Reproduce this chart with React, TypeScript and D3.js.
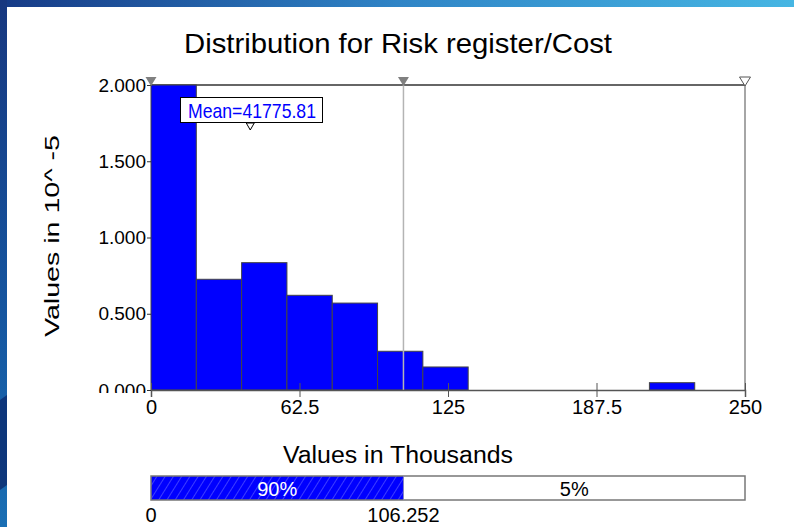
import { useEffect, useRef } from "react";
import * as d3 from "d3";

const W = 794;
const H = 527;

// histogram (values in thousands, density in 10^-5)
const binEdges = [0, 19.07, 38.14, 57.21, 76.28, 95.35, 114.42, 133.49, 152.56, 171.63, 190.7, 209.77, 228.84];
const densities = [2.02, 0.726, 0.835, 0.621, 0.57, 0.254, 0.151, 0, 0, 0, 0, 0.048];

const xTicks = [0, 62.5, 125, 187.5, 250];
const yTicks = [0, 0.5, 1.0, 1.5, 2.0];

const meanValue = 41.77581;
const meanLabel = "Mean=41775.81";
const leftCut = 0;
const rightCut = 106.252;
const bandLabels = ["90%", "5%"];

const FONT = "'Liberation Sans', Arial, sans-serif";

export default function App() {
  const axesRef = useRef<SVGGElement>(null);

  const x = d3.scaleLinear().domain([0, 250]).range([151, 745]);
  const y = d3.scaleLinear().domain([0, 2]).range([390, 85]).clamp(true);

  useEffect(() => {
    const g = d3.select(axesRef.current);
    g.selectAll("*").remove();

    // x axis, ticks cross the line
    const xa = g.append("g").attr("transform", "translate(0,390)");
    xa.call(d3.axisBottom(x).tickValues(xTicks).tickSize(7).tickFormat((d) => String(d)));
    xa.select(".domain").attr("stroke", "#555").attr("stroke-width", 1.5);
    xa.selectAll(".tick line").attr("stroke", "#555").attr("y1", -7);
    xa.selectAll(".tick text")
      .attr("font-family", FONT)
      .attr("font-size", 20)
      .attr("fill", "#000")
      .attr("y", 10);

    // y axis (bottom label gets cut by the plot edge, like the original)
    const ya = g.append("g").attr("transform", "translate(151,0)").attr("clip-path", "url(#yclip)");
    ya.call(d3.axisLeft(y).tickValues(yTicks).tickSize(4).tickFormat(d3.format(".3f")));
    ya.select(".domain").remove();
    ya.selectAll(".tick line").attr("stroke", "#333");
    ya.selectAll(".tick text")
      .attr("font-family", FONT)
      .attr("font-size", 19)
      .attr("fill", "#000")
      .attr("x", -5);
  }, []);

  const bars = densities.map((v, i) => ({ x0: binEdges[i], x1: binEdges[i + 1], v })).filter((b) => b.v > 0);

  const tri = (cx: number, top: number, w: number, h: number) =>
    `M${cx - w / 2},${top} L${cx + w / 2},${top} L${cx},${top + h} Z`;

  return (
    <svg width={W} height={H} style={{ position: "fixed", left: 0, top: 0 }}>
      <defs>
        <linearGradient id="topband" x1="0" x2="1" y1="0" y2="0">
          <stop offset="0" stopColor="#163a86" />
          <stop offset="0.5" stopColor="#2f84c6" />
          <stop offset="1" stopColor="#46b6e3" />
        </linearGradient>
        <linearGradient id="leftband" x1="0" x2="0" y1="0" y2="1">
          <stop offset="0" stopColor="#17377f" />
          <stop offset="0.6" stopColor="#1556a0" />
          <stop offset="1" stopColor="#1a6fb4" />
        </linearGradient>
        <pattern id="hatch" width="7" height="7" patternUnits="userSpaceOnUse" patternTransform="rotate(32)">
          <rect width="7" height="7" fill="#0000ff" />
          <line x1="0" y1="0" x2="0" y2="7" stroke="#7a7aff" strokeWidth="1" />
        </pattern>
        <clipPath id="yclip">
          <rect x={-200} y={0} width={400} height={393} />
        </clipPath>
      </defs>

      <rect width={W} height={H} fill="#fff" />
      <rect x={0} y={0} width={W} height={7} fill="url(#topband)" />
      <rect x={0} y={0} width={7} height={H} fill="url(#leftband)" />
      <path d="M0,400 L7,395 L7,485 L0,490 Z" fill="#0b2a6e" opacity={0.8} />

      <text x={398} y={53} textAnchor="middle" fontFamily={FONT} fontSize={28} fill="#000" textLength={428} lengthAdjust="spacingAndGlyphs">
        Distribution for Risk register/Cost
      </text>

      {/* plot frame */}
      <line x1={151} x2={745} y1={85} y2={85} stroke="#333" strokeWidth={1.5} />
      <line x1={745} x2={745} y1={85} y2={390} stroke="#888" strokeWidth={1.5} />

      {bars.map((b, i) => (
        <rect
          key={i}
          x={x(b.x0)}
          y={y(b.v)}
          width={x(b.x1) - x(b.x0)}
          height={390 - y(b.v)}
          fill="#0000ff"
          stroke="#444"
          strokeWidth={1}
        />
      ))}

      <line x1={x(rightCut)} x2={x(rightCut)} y1={85} y2={390} stroke="#b4b4b4" strokeWidth={1.5} />

      <g ref={axesRef} />

      {/* cut markers */}
      <path d={tri(x(leftCut), 77, 11, 9)} fill="#808080" />
      <path d={tri(x(rightCut), 77, 11, 9)} fill="#808080" />
      <path d={tri(x(250), 77, 11, 9)} fill="#fff" stroke="#555" strokeWidth={1} />

      {/* mean label */}
      <rect x={180.5} y={97.5} width={142} height={25} fill="#fff" stroke="#000" strokeWidth={1} />
      <text x={252} y={118} textAnchor="middle" fontFamily={FONT} fontSize={21} fill="#0000ff" textLength={128} lengthAdjust="spacingAndGlyphs">
        {meanLabel}
      </text>
      <path d={tri(x(meanValue), 123, 8, 7)} fill="#fff" stroke="#000" strokeWidth={1} />

      <text x={398} y={463} textAnchor="middle" fontFamily={FONT} fontSize={23} fill="#000" textLength={230} lengthAdjust="spacingAndGlyphs">
        Values in Thousands
      </text>
      <text
        transform="translate(59,236) rotate(-90)"
        textAnchor="middle"
        fontFamily={FONT}
        fontSize={21}
        fill="#000"
        textLength={202}
        lengthAdjust="spacingAndGlyphs"
      >
        Values in 10^ -5
      </text>

      {/* percentile band */}
      <rect x={x(leftCut)} y={476} width={x(rightCut) - x(leftCut)} height={24} fill="url(#hatch)" />
      <rect x={x(rightCut)} y={476} width={x(250) - x(rightCut)} height={24} fill="#fff" />
      <rect x={151} y={476} width={594} height={24} fill="none" stroke="#777" strokeWidth={1.5} />
      <line x1={x(rightCut)} x2={x(rightCut)} y1={476} y2={500} stroke="#8080c0" strokeWidth={1} />
      <text x={(x(leftCut) + x(rightCut)) / 2} y={496} textAnchor="middle" fontFamily={FONT} fontSize={20} fill="#fff">
        {bandLabels[0]}
      </text>
      <text x={(x(rightCut) + x(250)) / 2} y={496} textAnchor="middle" fontFamily={FONT} fontSize={20} fill="#000">
        {bandLabels[1]}
      </text>
      <text x={x(leftCut)} y={522} textAnchor="middle" fontFamily={FONT} fontSize={20} fill="#000">
        {String(leftCut)}
      </text>
      <text x={x(rightCut)} y={522} textAnchor="middle" fontFamily={FONT} fontSize={20} fill="#000">
        {String(rightCut)}
      </text>
    </svg>
  );
}
